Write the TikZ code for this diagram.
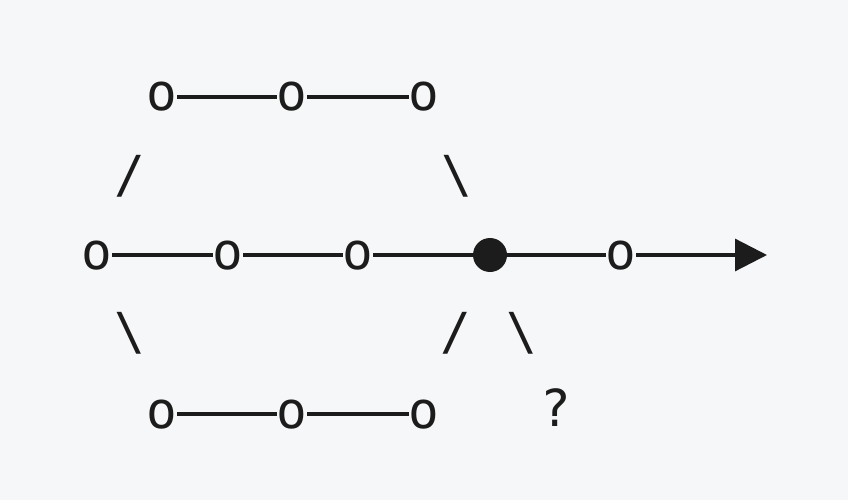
\documentclass[tikz,border=0pt]{standalone}
\usepackage{fontspec}
\newfontfamily\artfont{DejaVu Sans Mono}
\usetikzlibrary{arrows.meta}
\definecolor{bgc}{HTML}{F6F7F9}
\definecolor{ink}{HTML}{1C1C1C}
\tikzset{
  letter/.style={inner sep=0pt, outer sep=0pt, text height=28pt, text depth=0pt, text=ink,
    font=\artfont\fontsize{51}{60}\selectfont},
  glyph/.style={inner sep=0pt, anchor=base, text=ink, font=\artfont\fontsize{51}{60}\selectfont},
  bead/.style={circle, fill=ink, minimum size=34pt, inner sep=0pt, outer sep=0pt},
  link/.style={draw=ink, line width=3.2pt},
}
\begin{document}
\begin{tikzpicture}[x=1pt,y=-1pt]
\fill[bgc] (0,0) rectangle (848,500);
\useasboundingbox (0,0) rectangle (848,500);
% top row
\node[letter] (t1) at (162,97) {o};
\node[letter] (t2) at (292,97) {o};
\node[letter] (t3) at (424,97) {o};
% middle row
\node[letter] (m1) at (97,255) {o};
\node[letter] (m2) at (228,255) {o};
\node[letter] (m3) at (358,255) {o};
\node[bead] (dot) at (490,255) {};
\node[letter] (m5) at (621,255) {o};
\coordinate (tip) at (767,255);
% bottom row
\node[letter] (b1) at (162,414) {o};
\node[letter] (b2) at (292,414) {o};
\node[letter] (b3) at (424,414) {o};
% slashes and question mark
\node[glyph] (s1) at (130,192) {/};
\node[glyph] (s2) at (457,192) {\textbackslash};
\node[glyph] (s3) at (130,349) {\textbackslash};
\node[glyph] (s4) at (456,349) {/};
\node[glyph] (s5) at (522,349) {\textbackslash};
\node[glyph] (q) at (556,426) {?};
% connectors
\draw[link] (t1) -- (t2);
\draw[link] (t2) -- (t3);
\draw[link] (m1) -- (m2);
\draw[link] (m2) -- (m3);
\draw[link] (m3) -- (dot);
\draw[link] (dot) -- (m5);
\draw[link, -{Triangle[length=32pt,width=32pt]}] (m5) -- (tip);
\draw[link] (b1) -- (b2);
\draw[link] (b2) -- (b3);
\end{tikzpicture}
\end{document}
